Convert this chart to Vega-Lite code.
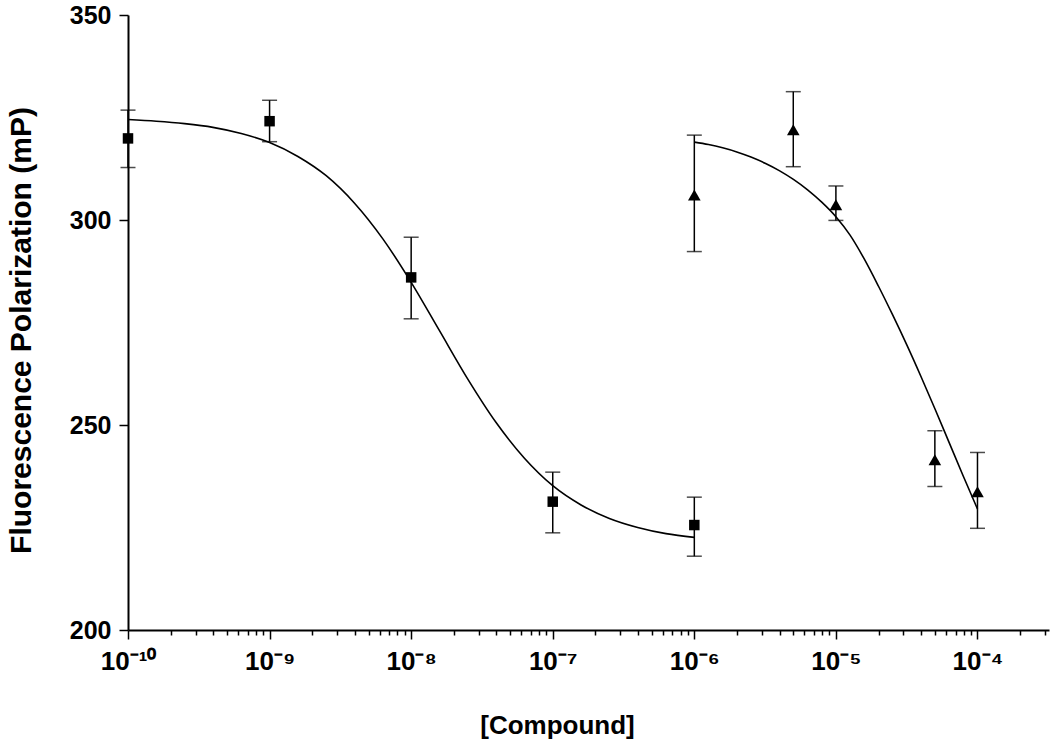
{
  "$schema": "https://vega.github.io/schema/vega-lite/v6.json",
  "width": 921,
  "height": 615,
  "autosize": {"type": "none"},
  "padding": {"left": 128, "top": 15, "right": 1, "bottom": 117},
  "background": "white",
  "config": {"view": {"stroke": null}, "font": "Liberation Sans"},
  "datasets": {
    "points": [
      {"conc": 1e-10, "mp": 319.9, "lo": 312.8, "hi": 326.8, "series": "A"},
      {"conc": 1e-9, "mp": 324.1, "lo": 319.1, "hi": 329.2, "series": "A"},
      {"conc": 1e-8, "mp": 286.0, "lo": 275.9, "hi": 295.8, "series": "A"},
      {"conc": 1e-7, "mp": 231.3, "lo": 223.7, "hi": 238.5, "series": "A"},
      {"conc": 1e-6, "mp": 225.6, "lo": 218.0, "hi": 232.4, "series": "A"},
      {"conc": 1e-6, "mp": 306.1, "lo": 292.3, "hi": 320.7, "series": "B"},
      {"conc": 5e-6, "mp": 322.0, "lo": 313.0, "hi": 331.3, "series": "B"},
      {"conc": 1e-5, "mp": 303.7, "lo": 299.9, "hi": 308.3, "series": "B"},
      {"conc": 5e-5, "mp": 241.5, "lo": 235.0, "hi": 248.6, "series": "B"},
      {"conc": 1e-4, "mp": 233.7, "lo": 224.8, "hi": 243.3, "series": "B"}
    ],
    "curves": [
      {"conc": 1e-10, "mp": 324.5, "series": "A"},
      {"conc": 1.585e-10, "mp": 324.1, "series": "A"},
      {"conc": 2.512e-10, "mp": 323.5, "series": "A"},
      {"conc": 3.981e-10, "mp": 322.6, "series": "A"},
      {"conc": 6.31e-10, "mp": 321.1, "series": "A"},
      {"conc": 1e-9, "mp": 318.9, "series": "A"},
      {"conc": 1.585e-9, "mp": 315.5, "series": "A"},
      {"conc": 2.512e-9, "mp": 310.8, "series": "A"},
      {"conc": 3.981e-9, "mp": 304.1, "series": "A"},
      {"conc": 6.31e-9, "mp": 295.4, "series": "A"},
      {"conc": 1e-8, "mp": 284.8, "series": "A"},
      {"conc": 1.585e-8, "mp": 273.0, "series": "A"},
      {"conc": 2.512e-8, "mp": 261.2, "series": "A"},
      {"conc": 3.981e-8, "mp": 250.6, "series": "A"},
      {"conc": 6.31e-8, "mp": 241.9, "series": "A"},
      {"conc": 1e-7, "mp": 235.2, "series": "A"},
      {"conc": 1.585e-7, "mp": 230.5, "series": "A"},
      {"conc": 2.512e-7, "mp": 227.2, "series": "A"},
      {"conc": 3.981e-7, "mp": 225.0, "series": "A"},
      {"conc": 6.31e-7, "mp": 223.5, "series": "A"},
      {"conc": 1e-6, "mp": 222.6, "series": "A"},
      {"conc": 1e-6, "mp": 319.0, "series": "B"},
      {"conc": 1.259e-6, "mp": 318.4, "series": "B"},
      {"conc": 1.585e-6, "mp": 317.6, "series": "B"},
      {"conc": 1.995e-6, "mp": 316.6, "series": "B"},
      {"conc": 2.512e-6, "mp": 315.35, "series": "B"},
      {"conc": 3.162e-6, "mp": 313.85, "series": "B"},
      {"conc": 3.981e-6, "mp": 312.05, "series": "B"},
      {"conc": 5.012e-6, "mp": 309.9, "series": "B"},
      {"conc": 6.31e-6, "mp": 307.35, "series": "B"},
      {"conc": 7.943e-6, "mp": 304.35, "series": "B"},
      {"conc": 1e-5, "mp": 300.8, "series": "B"},
      {"conc": 1.259e-5, "mp": 296.3, "series": "B"},
      {"conc": 1.585e-5, "mp": 290.5, "series": "B"},
      {"conc": 1.995e-5, "mp": 283.9, "series": "B"},
      {"conc": 2.512e-5, "mp": 276.9, "series": "B"},
      {"conc": 3.162e-5, "mp": 269.6, "series": "B"},
      {"conc": 3.981e-5, "mp": 261.9, "series": "B"},
      {"conc": 5.012e-5, "mp": 253.9, "series": "B"},
      {"conc": 6.31e-5, "mp": 245.7, "series": "B"},
      {"conc": 7.943e-5, "mp": 237.5, "series": "B"},
      {"conc": 1e-4, "mp": 229.5, "series": "B"}
    ]
  },
  "layer": [
    {
      "data": {"name": "curves"},
      "mark": {"type": "line", "color": "black", "strokeWidth": 1.6, "interpolate": "monotone"},
      "encoding": {
        "x": {
          "field": "conc", "type": "quantitative",
          "scale": {"type": "log", "domain": [1e-10, 3.2e-4], "nice": false},
          "axis": {
            "orient": "bottom",
            "values": [1e-10, 1e-9, 1e-8, 1e-7, 1e-6, 1e-5, 1e-4],
            "labelExpr": "datum.value < 5e-10 ? '10⁻¹⁰' : datum.value < 5e-9 ? '10⁻⁹' : datum.value < 5e-8 ? '10⁻⁸' : datum.value < 5e-7 ? '10⁻⁷' : datum.value < 5e-6 ? '10⁻⁶' : datum.value < 5e-5 ? '10⁻⁵' : '10⁻⁴'",
            "labelFont": "Liberation Sans", "labelFontWeight": "bold", "labelFontSize": 26,
            "labelColor": "black", "labelPadding": 30, "labelBaseline": "alphabetic",
            "labelFlush": false, "labelOverlap": false,
            "tickSize": 9, "tickWidth": 1.5, "tickColor": "black",
            "domainColor": "black", "domainWidth": 2, "grid": false,
            "title": "[Compound]", "titleFont": "Liberation Sans", "titleFontSize": 26,
            "titleFontWeight": "bold", "titleColor": "black",
            "titleX": 429, "titleY": 103, "titleAlign": "center", "titleBaseline": "alphabetic"
          }
        },
        "y": {
          "field": "mp", "type": "quantitative",
          "scale": {"domain": [200, 350], "nice": false, "zero": false},
          "axis": {
            "values": [200, 250, 300, 350],
            "labelFont": "Liberation Sans", "labelFontWeight": "bold", "labelFontSize": 25,
            "labelColor": "black", "labelPadding": 8, "labelFlush": false,
            "tickSize": 9, "tickWidth": 1.5, "tickColor": "black",
            "domainColor": "black", "domainWidth": 2, "grid": false,
            "title": "Fluorescence Polarization (mP)", "titleFont": "Liberation Sans",
            "titleFontSize": 30, "titleFontWeight": "bold", "titleColor": "black",
            "titleX": -98, "titleY": 315, "titleAlign": "center", "titleBaseline": "alphabetic", "titleAngle": -90
          }
        },
        "detail": {"field": "series"}
      }
    },
    {
      "data": {"name": "points"},
      "mark": {"type": "rule", "color": "black", "strokeWidth": 1.5},
      "encoding": {
        "x": {
          "field": "conc", "type": "quantitative",
          "axis": {
            "orient": "bottom",
            "values": [2e-10, 3e-10, 4e-10, 5e-10, 6e-10, 7e-10, 8e-10, 9e-10,
                       2e-9, 3e-9, 4e-9, 5e-9, 6e-9, 7e-9, 8e-9, 9e-9,
                       2e-8, 3e-8, 4e-8, 5e-8, 6e-8, 7e-8, 8e-8, 9e-8,
                       2e-7, 3e-7, 4e-7, 5e-7, 6e-7, 7e-7, 8e-7, 9e-7,
                       2e-6, 3e-6, 4e-6, 5e-6, 6e-6, 7e-6, 8e-6, 9e-6,
                       2e-5, 3e-5, 4e-5, 5e-5, 6e-5, 7e-5, 8e-5, 9e-5,
                       2e-4, 3e-4],
            "labels": false, "domain": false, "grid": false,
            "tickSize": 5, "tickWidth": 1.5, "tickColor": "black", "title": null
          }
        },
        "y": {"field": "lo", "type": "quantitative"},
        "y2": {"field": "hi"}
      }
    },
    {
      "data": {"name": "points"},
      "mark": {"type": "tick", "color": "black", "orient": "horizontal", "size": 15, "thickness": 1.5},
      "encoding": {
        "x": {"field": "conc", "type": "quantitative", "axis": null},
        "y": {"field": "lo", "type": "quantitative"}
      }
    },
    {
      "data": {"name": "points"},
      "mark": {"type": "tick", "color": "black", "orient": "horizontal", "size": 15, "thickness": 1.5},
      "encoding": {
        "x": {"field": "conc", "type": "quantitative", "axis": null},
        "y": {"field": "hi", "type": "quantitative"}
      }
    },
    {
      "data": {"name": "points"},
      "mark": {"type": "point", "filled": true, "color": "black", "opacity": 1},
      "encoding": {
        "x": {"field": "conc", "type": "quantitative", "axis": null},
        "y": {"field": "mp", "type": "quantitative"},
        "shape": {
          "field": "series", "type": "nominal",
          "scale": {"domain": ["A", "B"], "range": ["square", "triangle-up"]},
          "legend": null
        },
        "size": {
          "field": "series", "type": "nominal",
          "scale": {"domain": ["A", "B"], "range": [110, 160]},
          "legend": null
        }
      }
    }
  ],
  "resolve": {"axis": {"x": "independent"}}
}
